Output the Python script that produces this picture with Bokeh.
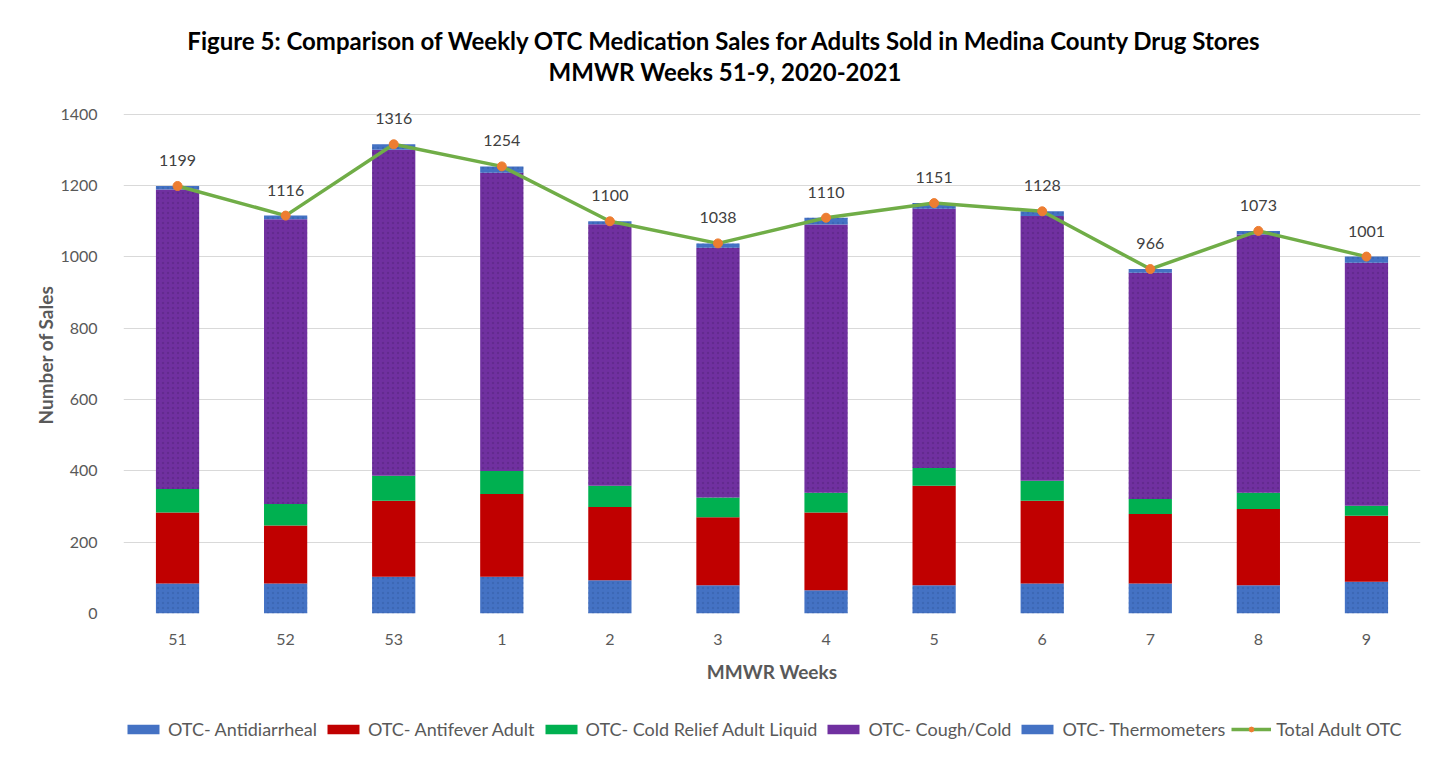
from bokeh.plotting import figure
from bokeh.layouts import column
from bokeh.models import (ColumnDataSource, FactorRange, Range1d, Label, LabelSet, Legend,
                          LegendItem)
from bokeh.embed import file_html
from bokeh.resources import INLINE
from bokeh.core.properties import value

weeks = ["51", "52", "53", "1", "2", "3", "4", "5", "6", "7", "8", "9"]
antidiarrheal = [84, 84, 103, 103, 93, 79, 65, 79, 84, 84, 79, 89]
antifever = [199, 163, 213, 232, 206, 191, 218, 279, 232, 195, 214, 185]
cold_liquid = [66, 60, 70, 65, 59, 55, 56, 50, 56, 42, 46, 28]
cough_cold = [840, 799, 915, 836, 734, 701, 752, 727, 743, 635, 724, 682]
thermometers = [10, 10, 15, 18, 8, 12, 19, 16, 13, 10, 10, 17]
totals = [1199, 1116, 1316, 1254, 1100, 1038, 1110, 1151, 1128, 966, 1073, 1001]
y_ticks = [0, 200, 400, 600, 800, 1000, 1200, 1400]

series_names = ["OTC- Antidiarrheal", "OTC- Antifever Adult", "OTC- Cold Relief Adult Liquid",
                "OTC- Cough/Cold", "OTC- Thermometers"]
total_name = "Total Adult OTC"
title_1 = "Figure 5: Comparison of Weekly OTC Medication Sales for Adults Sold in Medina County Drug Stores"
title_2 = "MMWR Weeks 51-9, 2020-2021"
keys = ["antidiarrheal", "antifever", "cold_liquid", "cough_cold", "thermometers"]
colors = ["#4472C4", "#C00000", "#00B050", "#7030A0", "#4472C4"]
LINE_C = "#70AD47"
MARK_C = "#ED7D31"

src = ColumnDataSource(data=dict(weeks=weeks, antidiarrheal=antidiarrheal, antifever=antifever,
                                 cold_liquid=cold_liquid, cough_cold=cough_cold,
                                 thermometers=thermometers, totals=totals,
                                 labels=[str(t) for t in totals]))

FONT = "Lato"
GRAY = "#595959"
FRAME_W = 1297
LEFT = 123
PAGE_W = 1449


def style_bars(rs, hatch=True):
    for r in rs:
        r.glyph.line_color = None
    if not hatch:
        return
    for i, hc in ((3, "#4B1F70"), (0, "#2F5597"), (4, "#2F5597")):
        rs[i].glyph.hatch_pattern = "dot"
        rs[i].glyph.hatch_color = hc
        rs[i].glyph.hatch_scale = 5
        rs[i].glyph.hatch_alpha = 0.35


# ---------- title strip (its frame is aligned with the chart frame) ----------
pt = figure(width=PAGE_W, height=90, x_range=Range1d(0, FRAME_W), y_range=Range1d(0, 90),
            output_backend="svg", toolbar_location=None, min_border=0,
            x_axis_location=None, y_axis_location=None)
pt.grid.visible = False
pt.outline_line_color = None
cx = PAGE_W / 2 - LEFT
pt.add_layout(Label(x=cx, y=50, text=title_1, text_align="center", text_baseline="middle",
                    text_font=FONT, text_font_size="24px", text_font_style="bold",
                    text_color="#000000"))
pt.add_layout(Label(x=cx, y=19, text=title_2, text_align="center", text_baseline="middle",
                    text_font=FONT, text_font_size="24px", text_font_style="bold",
                    text_color="#000000"))

# ---------- main chart ----------
p = figure(frame_width=FRAME_W, frame_height=517, x_range=FactorRange(*weeks),
           y_range=Range1d(0, 1450), output_backend="svg", toolbar_location=None,
           min_border_left=LEFT, min_border_right=29, min_border_top=6, min_border_bottom=90)

bars = p.vbar_stack(keys, x="weeks", width=0.4, color=colors, source=src, line_color=None)
style_bars(bars)

ln = p.line(x="weeks", y="totals", source=src, line_color=LINE_C, line_width=3.5)
sc = p.scatter(x="weeks", y="totals", source=src, size=9, fill_color=MARK_C, line_color=MARK_C)

p.add_layout(LabelSet(x="weeks", y="totals", text="labels", source=src, y_offset=20,
                      text_align="center", text_baseline="bottom", text_font=value(FONT),
                      text_font_size="16px", text_color="#404040"))

p.yaxis.ticker = y_ticks
p.yaxis.axis_label = "Number of Sales"
p.xaxis.axis_label = "MMWR Weeks"
for ax in (p.xaxis[0], p.yaxis[0]):
    ax.axis_line_color = None
    ax.major_tick_line_color = None
    ax.minor_tick_line_color = None
    ax.major_label_text_font = FONT
    ax.major_label_text_font_size = "16px"
    ax.major_label_text_color = GRAY
    ax.axis_label_text_font = FONT
    ax.axis_label_text_font_size = "19px"
    ax.axis_label_text_font_style = "bold"
    ax.axis_label_text_color = GRAY
p.xaxis.major_label_standoff = 14
p.xaxis.axis_label_standoff = 12
p.yaxis.major_label_standoff = 20
p.yaxis.axis_label_standoff = 0

p.xgrid.grid_line_color = None
p.ygrid.grid_line_color = "#D9D9D9"
p.ygrid.grid_line_width = 1
p.outline_line_color = None

# ---------- legend strip: same series drawn out of view (below), legend in view ----------
pl = figure(width=PAGE_W, height=54, x_range=p.x_range, y_range=Range1d(4000, 5000),
            output_backend="svg", toolbar_location=None, min_border=0,
            x_axis_location=None, y_axis_location=None)
pl.grid.visible = False
pl.outline_line_color = None
lbars = pl.vbar_stack(keys, x="weeks", width=0.4, color=colors, source=src, line_color=None)
style_bars(lbars, hatch=False)
lw = pl.line(x="weeks", y="totals", source=src, line_color=LINE_C, line_width=3.5)
lm = pl.scatter(x="weeks", y="totals", source=src, size=9, fill_color=MARK_C, line_color=MARK_C)
items = [LegendItem(label=n, renderers=[r]) for n, r in zip(series_names, lbars)]
items.append(LegendItem(label=total_name, renderers=[lw, lm]))
legend = Legend(items=items, orientation="horizontal", location=(0, 17),
                label_text_font=FONT, label_text_font_size="18px", label_text_color=GRAY,
                glyph_width=40, glyph_height=12, spacing=6, label_standoff=5,
                border_line_color=None, background_fill_alpha=0, margin=0, padding=0)
pl.add_layout(legend)

layout = column(pt, p, pl, spacing=0)
open("out.html", "w").write(file_html(layout, INLINE))
